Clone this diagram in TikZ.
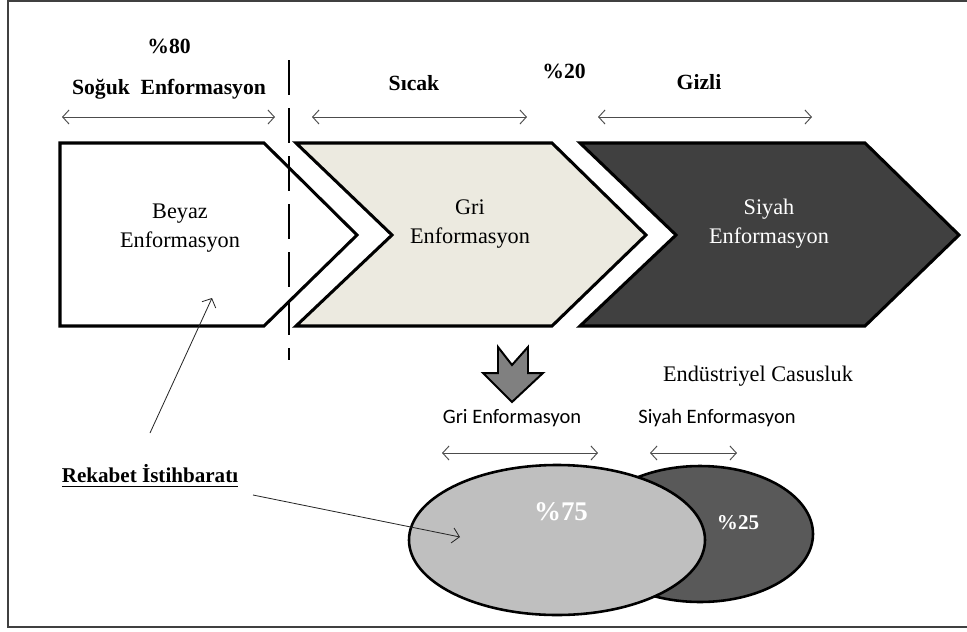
\documentclass[tikz,border=0pt]{standalone}
\usepackage{fontspec}
\setmainfont{Liberation Serif}
\newfontfamily\calibrifont{Carlito}
\usetikzlibrary{arrows.meta}
\definecolor{beige}{RGB}{236,234,224}
\definecolor{coal}{RGB}{64,64,64}
\definecolor{ashgrey}{RGB}{191,191,191}
\definecolor{slate}{RGB}{89,89,89}
\definecolor{midgrey}{RGB}{128,128,128}
\newcommand{\thickunder}[1]{{\setbox0\hbox{#1}\rlap{\raisebox{-4pt}{\rule{\wd0}{1.4pt}}}\box0}}

\begin{document}
\begin{tikzpicture}[x=0.03cm, y=-0.03cm,
  chevron/.style={line width=2.6pt, draw=black, line join=miter},
  span/.style={draw=black!70, line width=0.8pt,
    {Straight Barb[length=5.5pt,width=12pt]}-{Straight Barb[length=5.5pt,width=12pt]}},
  pointer/.style={draw=black!85, line width=0.7pt, -{Straight Barb[length=6pt,width=13pt]}},
  headlabel/.style={font=\fontsize{18.5}{22}\selectfont\bfseries},
  boxlabel/.style={align=center, font=\fontsize{19}{25}\selectfont},
  sanslabel/.style={font=\calibrifont\fontsize{17.5}{20}\selectfont}]
\useasboundingbox (0,0) rectangle (967,631);
% --- open frame (right side cut off) ---
\draw[line width=1.4pt, black!75] (967,1) -- (8,1) -- (8,627) -- (967,627);
% --- three chevrons ---
\draw[chevron, fill=white] (60,143) -- (264,143) -- (357,235) -- (264,326) -- (60,326) -- cycle;
\draw[chevron, fill=beige] (296,143) -- (552,143) -- (646,235) -- (552,326) -- (296,326) -- (392,235) -- cycle;
\draw[chevron, fill=coal] (580,143) -- (865,143) -- (959,235) -- (865,326) -- (580,326) -- (676,235) -- cycle;
% divider between cold and hot
\draw[black, line width=0.9pt, dash pattern=on 30pt off 11pt] (289,60) -- (289,360);
% --- top labels ---
\node[headlabel] (pct80) at (169,46) {\%80};
\node[headlabel] (cold) at (169,89) {Soğuk\ \ Enformasyon};
\node[headlabel] (hot) at (414,83) {Sıcak};
\node[headlabel] (pct20) at (564,71) {\%20};
\node[headlabel] (hidden) at (699,82) {Gizli};
\coordinate (cold-l) at (62,117);   \coordinate (cold-r) at (275,117);
\coordinate (hot-l) at (312,117);   \coordinate (hot-r) at (527,117);
\coordinate (hidden-l) at (598,117); \coordinate (hidden-r) at (812,117);
\draw[span] (cold-l) -- (cold-r);
\draw[span] (hot-l) -- (hot-r);
\draw[span] (hidden-l) -- (hidden-r);
% --- chevron texts ---
\node[boxlabel] (white) at (180,228) {Beyaz\\Enformasyon};
\node[boxlabel] (grey) at (470,224) {Gri\\Enformasyon};
\node[boxlabel, text=white] (black) at (769,224) {Siyah\\Enformasyon};
% --- down arrow ---
\draw[line width=1.7pt, fill=midgrey, line join=miter]
  (498,347) -- (512,365) -- (528,347) -- (528,373) -- (543,373) --
  (512,402) -- (483,373) -- (498,373) -- cycle;
% --- industrial espionage part ---
\node[font=\fontsize{19}{22}\selectfont] (spy) at (758,376) {Endüstriyel Casusluk};
\node[sanslabel] (greylbl) at (512,418) {Gri Enformasyon};
\node[sanslabel] (blacklbl) at (717,418) {Siyah Enformasyon};
\coordinate (greyspan-l) at (442,453);  \coordinate (greyspan-r) at (598,453);
\coordinate (blackspan-l) at (650,453); \coordinate (blackspan-r) at (737,453);
\draw[span] (greyspan-l) -- (greyspan-r);
\draw[span] (blackspan-l) -- (blackspan-r);
\draw[line width=2.2pt, fill=slate] (700,534) ellipse [x radius=113, y radius=68];
\draw[line width=2.2pt, fill=ashgrey] (557,540) ellipse [x radius=148, y radius=75];
\node[font=\fontsize{23}{26}\selectfont\bfseries, text=white] (pct75) at (561,512) {\%75};
\node[font=\fontsize{18}{22}\selectfont\bfseries, text=white] (pct25) at (738,523) {\%25};
% --- competitive intelligence ---
\node[font=\fontsize{18}{22}\selectfont\bfseries] (rival) at (150,476) {\thickunder{Rekabet İstihbaratı}};
\coordinate (rival-up) at (150,433);  \coordinate (white-in) at (212,298);
\coordinate (rival-out) at (253,495); \coordinate (grey-in) at (460,537);
\draw[pointer] (rival-up) -- (white-in);
\draw[pointer] (rival-out) -- (grey-in);
\end{tikzpicture}
\end{document}
